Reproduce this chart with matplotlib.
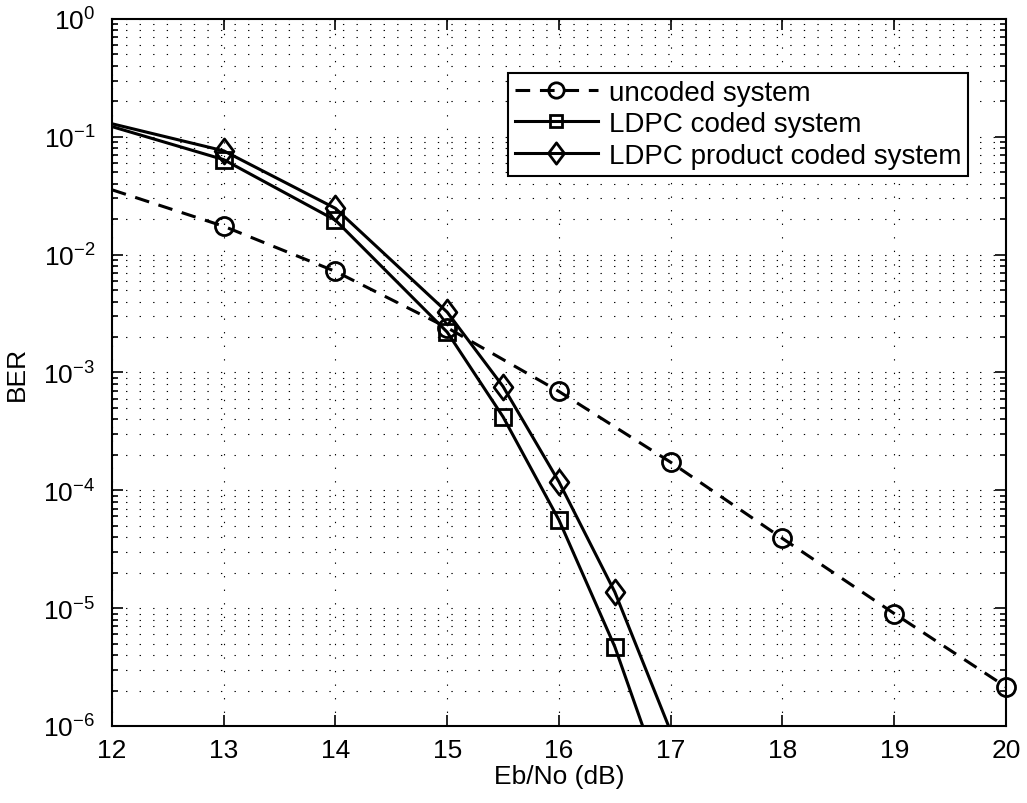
import numpy as np
import matplotlib
matplotlib.use('Agg')
import matplotlib.pyplot as plt
from matplotlib.path import Path
from matplotlib.ticker import LogLocator, NullFormatter

plt.rcParams['font.family'] = ['Liberation Sans', 'DejaVu Sans']
plt.rcParams['mathtext.default'] = 'regular'

# 读图得到的数据 (Eb/No in dB, BER)
ebno_uncoded = [12, 13, 14, 15, 16, 17, 18, 19, 20]
ber_uncoded = [3.55e-2, 1.74e-2, 7.2e-3, 2.4e-3, 6.9e-4, 1.73e-4, 3.9e-5, 9.0e-6, 2.15e-6]

ebno_coded = [12, 13, 14, 15, 15.5, 16, 16.5, 17]
ber_ldpc = [0.122, 6.4e-2, 1.96e-2, 2.2e-3, 4.2e-4, 5.6e-5, 4.7e-6, 2.1e-7]
ber_product = [0.129, 7.6e-2, 2.47e-2, 3.25e-3, 7.6e-4, 1.18e-4, 1.37e-5, 9.0e-7]

labels = ['uncoded system', 'LDPC coded system', 'LDPC product coded system']
x_ticks = [12, 13, 14, 15, 16, 17, 18, 19, 20]

# MATLAB 风格菱形标记
diamond = Path([(0, 1), (0.75, 0), (0, -1), (-0.75, 0), (0, 1)],
               [Path.MOVETO, Path.LINETO, Path.LINETO, Path.LINETO, Path.CLOSEPOLY])

fig = plt.figure(figsize=(10.27, 8.04), dpi=100)
ax = fig.add_axes([0.109, 0.0958, 0.8705, 0.8794])

lw = 2.2
ax.plot(ebno_uncoded, ber_uncoded, color='k', lw=lw, dashes=(4.8, 3.2),
        marker='o', ms=13, mfc='none', mew=2, markevery=list(range(1, len(ebno_uncoded))),
        label=labels[0], clip_on=False)
ax.plot(ebno_coded, ber_ldpc, color='k', lw=lw,
        marker='s', ms=11, mfc='none', mew=2, markevery=list(range(1, len(ebno_coded) - 1)),
        label=labels[1])
ax.plot(ebno_coded, ber_product, color='k', lw=lw,
        marker=diamond, ms=18, mfc='none', mew=2, markevery=list(range(1, len(ebno_coded) - 1)),
        label=labels[2])

ax.set_yscale('log')
ax.set_xlim(12, 20)
ax.set_ylim(1e-6, 1)
ax.set_xticks(x_ticks)
ax.yaxis.set_major_locator(LogLocator(base=10, numticks=10))
ax.yaxis.set_minor_locator(LogLocator(base=10, subs=np.arange(2, 10), numticks=100))
ax.yaxis.set_minor_formatter(NullFormatter())

# 网格
ax.grid(True, which='major', axis='both', color='k', lw=0.8, linestyle=(0, (1.2, 11)))
ax.grid(True, which='minor', axis='y', color='k', lw=0.8, linestyle=(0, (1.2, 11)))

ax.tick_params(which='both', direction='in', top=True, right=True, labelsize=19, width=1.2)
ax.tick_params(which='major', length=8, pad=9)
ax.tick_params(which='minor', length=4)
ax.tick_params(axis='y', which='major', pad=12)
for sp in ax.spines.values():
    sp.set_linewidth(1.5)

ax.set_xlabel('Eb/No (dB)', fontsize=19, labelpad=1)
ax.set_ylabel('BER', fontsize=19, labelpad=10)

leg = ax.legend(loc='upper right', bbox_to_anchor=(0.958, 0.924), fontsize=20,
                fancybox=False, framealpha=1, edgecolor='k', handlelength=3.0,
                handletextpad=0.4, borderpad=0.25, labelspacing=0.2, borderaxespad=0,
                markerscale=0.85)
leg.get_frame().set_linewidth(1.5)

plt.savefig('out.png', dpi=100)
plt.close()
